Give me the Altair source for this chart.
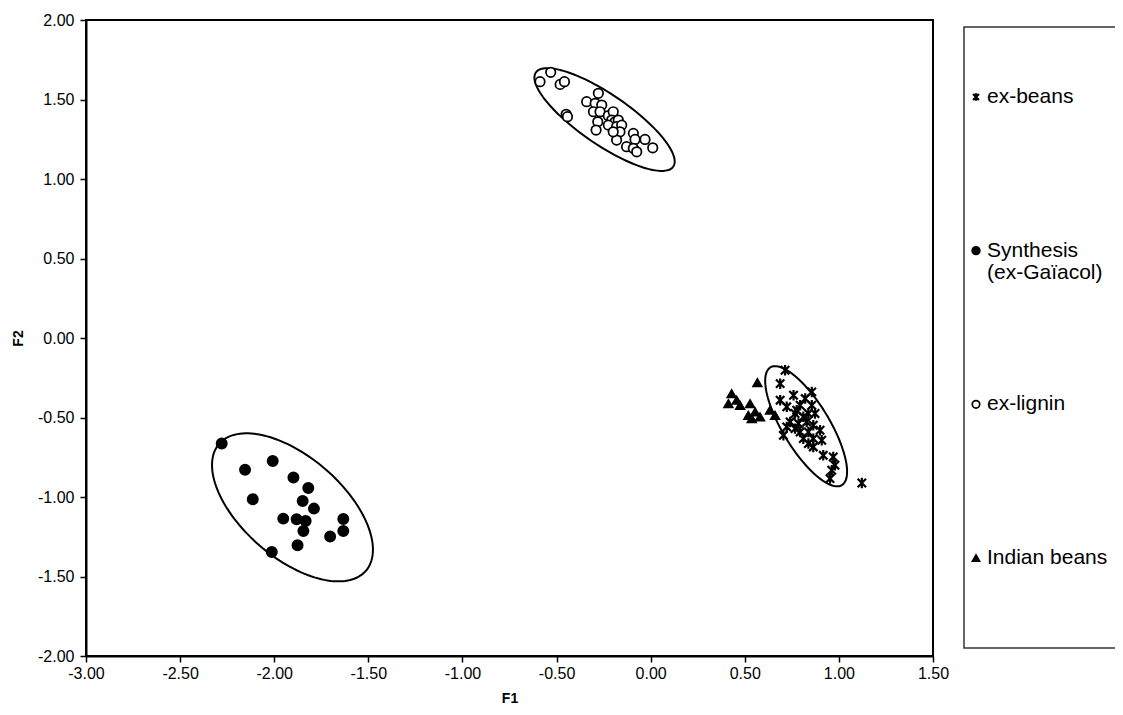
import altair as alt
import numpy as np
import pandas as pd

groups = ["ex-beans", "Synthesis (ex-Gaïacol)", "ex-lignin", "Indian beans"]
legend_labels = ["ex-beans", "Synthesis\n(ex-Gaïacol)", "ex-lignin", "Indian beans"]
legend_rows = [0, 1, 2, 3]

synth_x = [-2.279, -2.155, -2.008, -1.898, -1.819, -2.114, -1.849, -1.789, -1.952,
           -1.881, -1.833, -1.845, -1.633, -1.633, -1.703, -1.876, -2.013]
synth_y = [-0.664, -0.828, -0.773, -0.878, -0.943, -1.014, -1.025, -1.073, -1.136,
           -1.140, -1.151, -1.214, -1.138, -1.214, -1.249, -1.304, -1.346]

lignin_x = [-0.588, -0.531, -0.481, -0.458, -0.449, -0.442, -0.278, -0.340, -0.295,
            -0.260, -0.304, -0.269, -0.281, -0.290, -0.225, -0.199, -0.207, -0.189,
            -0.172, -0.225, -0.181, -0.154, -0.163, -0.181, -0.128, -0.092, -0.083,
            -0.092, -0.074, -0.030, 0.011, -0.199]
lignin_y = [1.612, 1.671, 1.595, 1.612, 1.407, 1.392, 1.539, 1.486, 1.476,
            1.465, 1.423, 1.423, 1.360, 1.308, 1.398, 1.423, 1.371, 1.360,
            1.371, 1.339, 1.329, 1.339, 1.297, 1.245, 1.203, 1.287, 1.249,
            1.193, 1.171, 1.249, 1.196, 1.297]

beans_x = [0.714, 0.688, 0.856, 0.688, 0.759, 0.821, 0.723, 0.794, 0.856, 0.873,
           0.767, 0.811, 0.741, 0.785, 0.829, 0.864, 0.900, 0.794, 0.838, 0.705,
           0.811, 0.864, 0.909, 0.838, 0.864, 0.917, 0.970, 0.979, 0.962, 0.953,
           1.122, 0.776, 0.838, 0.767, 0.723]
beans_y = [-0.203, -0.287, -0.339, -0.391, -0.360, -0.381, -0.433, -0.423, -0.423, -0.475,
           -0.475, -0.496, -0.528, -0.538, -0.528, -0.549, -0.580, -0.591, -0.591, -0.612,
           -0.633, -0.633, -0.643, -0.664, -0.685, -0.738, -0.748, -0.800, -0.832, -0.884,
           -0.912, -0.454, -0.475, -0.570, -0.559]

indian_x = [0.567, 0.430, 0.413, 0.457, 0.475, 0.528, 0.519, 0.555, 0.581, 0.634, 0.661, 0.537]
indian_y = [-0.280, -0.350, -0.413, -0.391, -0.423, -0.413, -0.486, -0.465, -0.496, -0.454, -0.486, -0.507]

# confidence ellipses: centre, major and minor semi-axis vectors (data units)
ell_cx = [-0.245, -1.903, 0.826]
ell_cy = [1.374, -1.065, -0.555]
ell_ax = [0.365, 0.390, 0.190]
ell_ay = [-0.296, -0.399, -0.370]
ell_bx = [-0.075, -0.175, -0.106]
ell_by = [-0.130, -0.240, -0.077]

x_ticks = [-3.0, -2.5, -2.0, -1.5, -1.0, -0.5, 0.0, 0.5, 1.0, 1.5]
y_ticks = [-2.0, -1.5, -1.0, -0.5, 0.0, 0.5, 1.0, 1.5, 2.0]

rows = []
for g, xs, ys in [(groups[0], beans_x, beans_y), (groups[1], synth_x, synth_y),
                  (groups[2], lignin_x, lignin_y), (groups[3], indian_x, indian_y)]:
    for a, b in zip(xs, ys):
        rows.append({"x": a, "y": b, "group": g})
df = pd.DataFrame(rows)

erows = []
t = np.linspace(0, 2 * np.pi, 145)
for i in range(len(ell_cx)):
    for k, tt in enumerate(t):
        erows.append({
            "x": ell_cx[i] + np.cos(tt) * ell_ax[i] + np.sin(tt) * ell_bx[i],
            "y": ell_cy[i] + np.cos(tt) * ell_ay[i] + np.sin(tt) * ell_by[i],
            "e": i, "k": k})
edf = pd.DataFrame(erows)

leg_df = pd.DataFrame({"group": groups, "label": legend_labels, "row": legend_rows})

FONT = "Liberation Sans"
star = "M-0.8,-0.8L0.8,0.8M-0.8,0.8L0.8,-0.8M0,-1L0,1"

shape_scale = alt.Scale(domain=groups, range=[star, "circle", "circle", "triangle-up"])
fill_scale = alt.Scale(domain=groups, range=["black", "black", "white", "black"])
sw_scale = alt.Scale(domain=groups, range=[2.2, 1.5, 1.6, 1.5])

xenc = alt.X("x:Q", title="F1",
             scale=alt.Scale(domain=[-3, 1.5], nice=False, zero=False),
             axis=alt.Axis(values=x_ticks, labelExpr="replace(format(datum.value, '.2f'), '\u2212', '-')",
                           grid=False, labelFont=FONT, labelFontSize=16, labelColor="black",
                           titleFont=FONT, titleFontSize=14, titleFontWeight="bold", titleColor="black",
                           tickSize=6, tickColor="black", tickWidth=1.5, domainColor="black",
                           domainWidth=2, labelPadding=3, titlePadding=10, labelFlush=False))
yenc = alt.Y("y:Q", title="F2",
             scale=alt.Scale(domain=[-2, 2], nice=False, zero=False),
             axis=alt.Axis(values=y_ticks, labelExpr="replace(format(datum.value, '.2f'), '\u2212', '-')",
                           grid=False, labelFont=FONT, labelFontSize=16, labelColor="black",
                           titleFont=FONT, titleFontSize=14, titleFontWeight="bold", titleColor="black",
                           tickSize=6, tickColor="black", tickWidth=1.5, domainColor="black",
                           domainWidth=2, labelPadding=6, titlePadding=12, labelFlush=False))

ellipses = alt.Chart(edf).mark_line(color="black", strokeWidth=2).encode(
    x=xenc, y=yenc, detail="e:N", order="k:Q")

points = alt.Chart(df).mark_point(filled=True, stroke="black", opacity=1).encode(
    x=xenc, y=yenc,
    shape=alt.Shape("group:N", scale=shape_scale, legend=None),
    fill=alt.Fill("group:N", scale=fill_scale, legend=None),
    size=alt.Size("group:N", scale=alt.Scale(domain=groups, range=[110, 80, 55, 95]), legend=None),
    strokeWidth=alt.StrokeWidth("group:N", scale=sw_scale, legend=None),
)

plot = alt.layer(ellipses, points)

leg_y = alt.Y("row:Q", scale=alt.Scale(domain=[0, 3], range=[77, 538]), axis=None)

leg_sym = alt.Chart(leg_df).mark_point(filled=True, stroke="black", opacity=1, size=55).encode(
    x=alt.value(890), y=leg_y,
    shape=alt.Shape("group:N", scale=shape_scale, legend=None),
    fill=alt.Fill("group:N", scale=fill_scale, legend=None),
    strokeWidth=alt.StrokeWidth("group:N", scale=sw_scale, legend=None),
)

leg_txt = alt.Chart(leg_df).mark_text(align="left", baseline="top", dy=-11, font=FONT,
                                      fontSize=21, color="black", lineBreak="\n",
                                      lineHeight=22).encode(
    x=alt.value(901), y=leg_y, text="label:N")

box = alt.Chart(alt.Data(values=[{}])).mark_rect(filled=False, stroke="#333333", strokeWidth=1.5).encode(
    x=alt.value(878), x2=alt.value(1080), y=alt.value(7), y2=alt.value(628))

legend_layer = alt.layer(box, leg_sym, leg_txt)

chart = alt.layer(plot, legend_layer).resolve_scale(y="independent").properties(
    width=847, height=636,
    autosize=alt.AutoSizeParams(type="none"),
    padding={"left": 78, "top": 12, "right": 182, "bottom": 51},
    background="white",
).configure_view(stroke="black", strokeWidth=2)

chart.save("out.html", embed_options={"renderer": "svg", "actions": False})
